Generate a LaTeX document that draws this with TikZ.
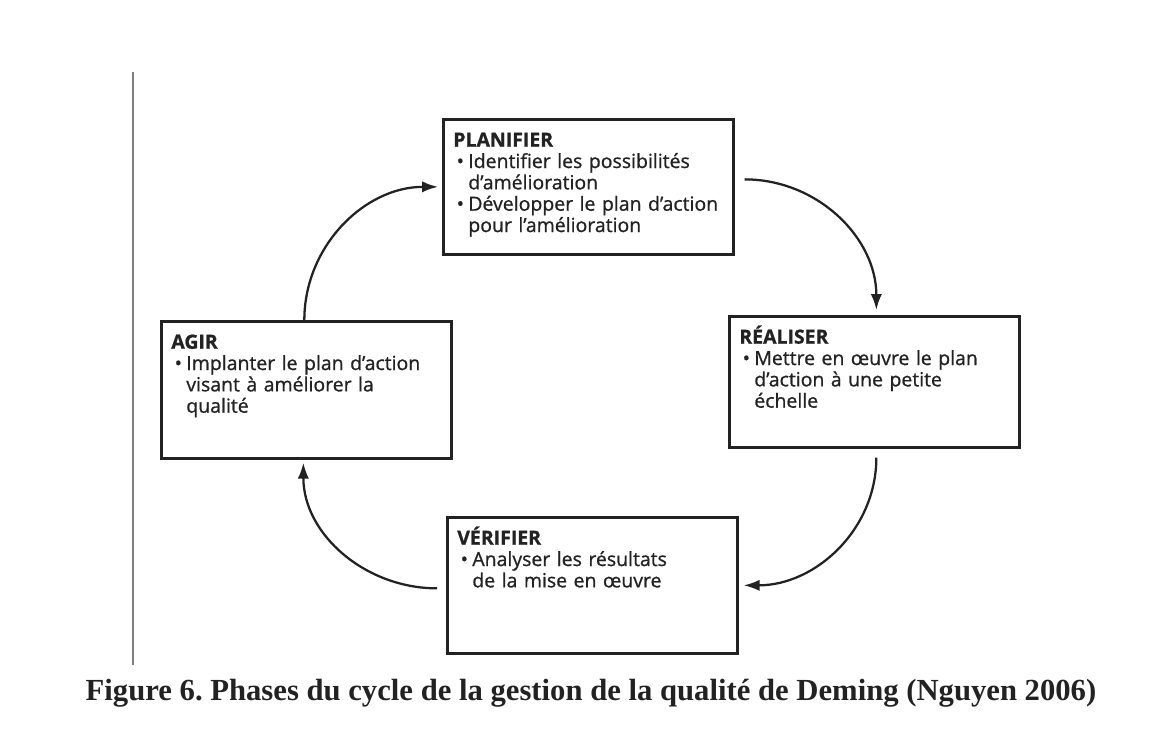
\documentclass[tikz,border=0pt]{standalone}
\usepackage{fontspec}
\usepackage{xcolor}
\usetikzlibrary{arrows.meta}
\newfontfamily\corps{Open Sans}[FakeBold=0.9]
\newfontfamily\legende{Liberation Serif}
\definecolor{encre}{HTML}{222222}
\newcommand\puce[1]{\mbox{\makebox[11.25pt][l]{\hspace{2.5pt}\textbullet}#1}}
\newcommand\suite[1]{\mbox{\hspace*{11.25pt}#1}}

\begin{document}
\begin{tikzpicture}[x=0.75pt,y=-0.75pt,
        phase/.style={draw=encre,line width=2pt,anchor=north west,align=left,
            inner xsep=7.5pt,inner ysep=0pt,text width=202.5pt,text height=20.5pt,
            text=encre,font=\corps\fontsize{14.6}{16}\selectfont},
        fleche/.style={draw=encre,line width=1.7pt,-{Latex[length=12pt,width=8.5pt]}}]
        \useasboundingbox (0,0) rectangle (1162,740);
        \draw[gray,line width=0.8pt] (133,72)--(133,665);
        \node[phase,text depth=80.75pt](plan) at (442,118) {\textbf{PLANIFIER}\\
            \puce{Identifier les possibilités}\\
            \suite{d’amélioration}\\
            \puce{Développer le plan d’action}\\
            \suite{pour l’amélioration}};
        \node[phase,text depth=77.75pt](real) at (728,315) {\textbf{RÉALISER}\\
            \puce{Mettre en œuvre le plan}\\
            \suite{d’action à une petite}\\
            \suite{échelle}};
        \node[phase,text depth=81.5pt](verif) at (446,516) {\textbf{VÉRIFIER}\\
            \puce{Analyser les résultats}\\
            \suite{de la mise en œuvre}};
        \node[phase,text depth=82.25pt](agir) at (160,320) {\textbf{AGIR}\\
            \puce{Implanter le plan d’action}\\
            \suite{visant à améliorer la}\\
            \suite{qualité}};
        \node[anchor=base,text=encre,font=\legende\bfseries\frenchspacing\fontsize{23}{26}\selectfont](titre) at (591,700)
            {Figure 6. Phases du cycle de la gestion de la qualité de Deming (Nguyen 2006)};
        \draw[fleche]([xshift=7.5pt,yshift=5.6pt]plan.east) to[out=0,in=90] ([xshift=1.5pt,yshift=3.75pt]real.north);
        \draw[fleche]([xshift=1.5pt,yshift=-6.75pt]real.south) to[out=-90,in=0] ([xshift=3.75pt]verif.east);
        \draw[fleche]([xshift=-6.75pt,yshift=-2.25pt]verif.west) to[out=180,in=-90] ([xshift=-2.25pt,yshift=-2.25pt]agir.south);
        \draw[fleche]([xshift=-1.5pt]agir.north) to[out=90,in=180] ([xshift=-3pt]plan.west);
\end{tikzpicture}
\end{document}
